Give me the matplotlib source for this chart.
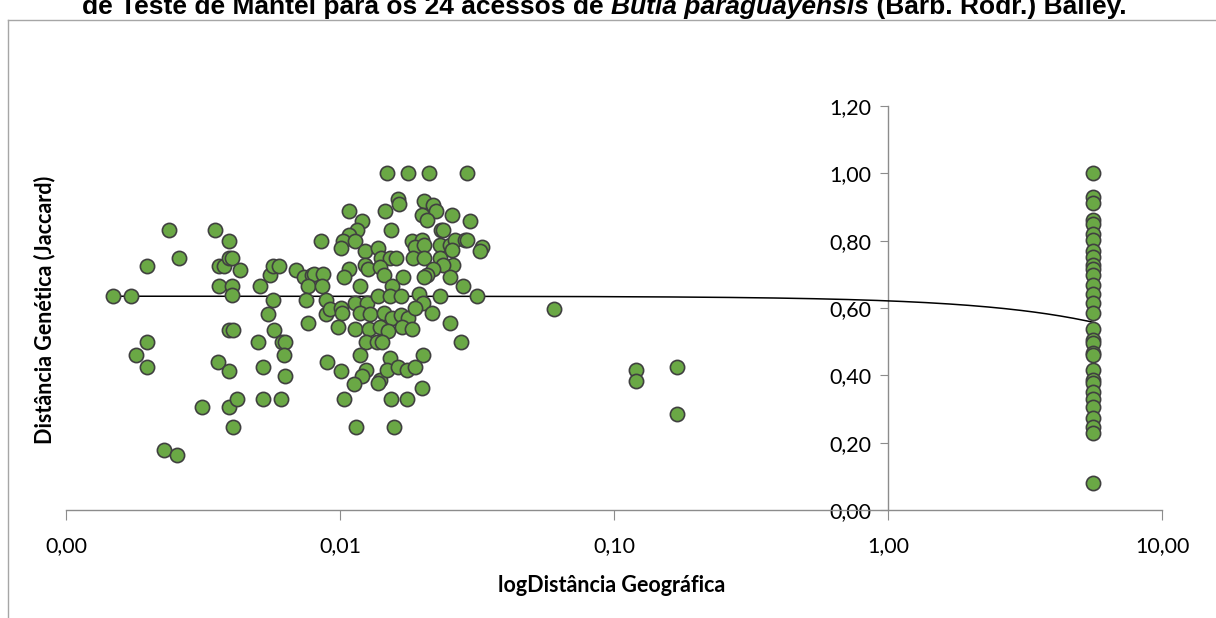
import numpy as np
import matplotlib
matplotlib.use("Agg")
import matplotlib.pyplot as plt
from matplotlib.ticker import FixedLocator, FixedFormatter
from matplotlib.lines import Line2D

# geographic distance (log axis) vs genetic distance (Jaccard)
geo_near = [
    0.00149, 0.00172, 0.00238, 0.00197, 0.00259, 0.00350, 0.00394,
    0.00363, 0.00377, 0.00394, 0.00403, 0.00432, 0.00362, 0.00404, 0.00404,
    0.00511, 0.00555, 0.00571, 0.00600, 0.00689, 0.00739, 0.00792, 0.00804,
    0.00869, 0.00766, 0.00858, 0.00850, 0.00571, 0.00750, 0.00887, 0.00547,
    0.00573, 0.00766, 0.00887, 0.00919, 0.00394, 0.00408, 0.00197, 0.00180,
    0.00197, 0.00360, 0.00394, 0.00503, 0.00522, 0.00616, 0.00630, 0.00626,
    0.00630, 0.00899, 0.00313, 0.00394, 0.00420, 0.00522, 0.00611, 0.00408,
    0.00227, 0.00255,
]
gen_near = [
    0.635, 0.635, 0.833, 0.726, 0.749, 0.833, 0.799,
    0.726, 0.726, 0.749, 0.749, 0.714, 0.665, 0.665, 0.640,
    0.665, 0.697, 0.726, 0.726, 0.714, 0.691, 0.697, 0.700,
    0.700, 0.665, 0.665, 0.799, 0.623, 0.623, 0.623, 0.582,
    0.536, 0.554, 0.582, 0.596, 0.536, 0.536, 0.498, 0.459,
    0.425, 0.441, 0.414, 0.498, 0.425, 0.498, 0.498, 0.459,
    0.398, 0.441, 0.305, 0.305, 0.331, 0.331, 0.331, 0.247,
    0.178, 0.162,
]

geo_mid = [
    0.01480, 0.01775, 0.02113, 0.02901, 0.01632, 0.01646, 0.02026, 0.02190,
    0.02234, 0.01987, 0.02072, 0.01081, 0.01459, 0.02556, 0.02982, 0.01200,
    0.01150, 0.01081, 0.01028, 0.01006, 0.01134, 0.01531, 0.02336, 0.02382,
    0.01234, 0.01380, 0.01408, 0.01522, 0.01601, 0.01827, 0.01987, 0.01878,
    0.02031, 0.02317, 0.02520, 0.02628, 0.02860, 0.02916, 0.03289, 0.03242,
    0.01851, 0.02026, 0.02317, 0.02556, 0.02578, 0.02382, 0.02178, 0.02072,
    0.02031, 0.02520, 0.02805, 0.01234, 0.01269, 0.01400, 0.01451, 0.01702,
    0.01081, 0.01034, 0.01183, 0.01544, 0.01134, 0.01252, 0.01380, 0.01522,
    0.01670, 0.01947, 0.02004, 0.02317, 0.03170, 0.01006, 0.01014, 0.01183,
    0.01287, 0.01448, 0.01544, 0.01665, 0.01775, 0.01878, 0.02160, 0.00986,
    0.01134, 0.01279, 0.01400, 0.01493, 0.01680, 0.01836, 0.02520, 0.02758,
    0.01241, 0.01361, 0.01420, 0.01183, 0.01522, 0.02014, 0.01008, 0.01244,
    0.01200, 0.01125, 0.01400, 0.01380, 0.01480, 0.01632, 0.01751, 0.01878,
    0.01997, 0.01034, 0.01535, 0.01751, 0.01141, 0.01578,
]
gen_mid = [
    1.000, 1.000, 1.000, 1.000, 0.925, 0.910, 0.918, 0.905,
    0.888, 0.877, 0.861, 0.888, 0.888, 0.875, 0.858, 0.858,
    0.831, 0.816, 0.799, 0.777, 0.799, 0.833, 0.833, 0.833,
    0.769, 0.779, 0.750, 0.750, 0.750, 0.799, 0.801, 0.781,
    0.786, 0.786, 0.786, 0.801, 0.801, 0.801, 0.781, 0.769,
    0.750, 0.750, 0.750, 0.772, 0.727, 0.727, 0.715, 0.697,
    0.692, 0.692, 0.666, 0.727, 0.715, 0.722, 0.699, 0.692,
    0.717, 0.692, 0.666, 0.666, 0.615, 0.615, 0.635, 0.635,
    0.635, 0.643, 0.615, 0.635, 0.635, 0.599, 0.584, 0.584,
    0.582, 0.584, 0.569, 0.579, 0.569, 0.599, 0.584, 0.544,
    0.537, 0.537, 0.544, 0.531, 0.544, 0.537, 0.554, 0.498,
    0.498, 0.498, 0.498, 0.459, 0.452, 0.459, 0.414, 0.415,
    0.398, 0.373, 0.386, 0.376, 0.415, 0.425, 0.415, 0.425,
    0.362, 0.331, 0.331, 0.331, 0.247, 0.247,
]

geo_far = [0.0604, 0.120, 0.120, 0.1693, 0.1693]
gen_far = [0.598, 0.415, 0.383, 0.425, 0.284]

geo_out = 5.6
gen_out = [
    1.000, 0.929, 0.912, 0.861, 0.849, 0.821, 0.801, 0.769, 0.752, 0.727,
    0.715, 0.697, 0.668, 0.643, 0.614, 0.584, 0.537, 0.504, 0.495, 0.465,
    0.460, 0.415, 0.386, 0.376, 0.351, 0.331, 0.306, 0.272, 0.247, 0.228,
    0.079,
]

# linear trendline: y = intercept + slope * x
trend_intercept = 0.635
trend_slope = -0.0138

x_ticks = [0.001, 0.01, 0.1, 1, 10]
x_labels = ["0,00", "0,01", "0,10", "1,00", "10,00"]
y_ticks = [0.0, 0.2, 0.4, 0.6, 0.8, 1.0, 1.2]
y_labels = ["0,00", "0,20", "0,40", "0,60", "0,80", "1,00", "1,20"]

x = np.array(geo_near + geo_mid + geo_far + [geo_out] * len(gen_out))
y = np.array(gen_near + gen_mid + gen_far + gen_out)

plt.rcParams["font.family"] = ["Lato", "DejaVu Sans"]

fig = plt.figure(figsize=(12.16, 6.18), dpi=100)
ax = fig.add_axes([66 / 1216, 1 - 510 / 618, (1162 - 66) / 1216, (510 - 106) / 618])

ax.scatter(x, y, s=105, color="#6aa845", edgecolors="#404040", linewidths=1.2, zorder=3)

xt = np.geomspace(x.min(), x.max(), 300)
ax.plot(xt, trend_intercept + trend_slope * xt, color="black", lw=1.1, zorder=2)

ax.set_xscale("log")
ax.set_xlim(0.001, 10)
ax.set_ylim(0, 1.2)
ax.xaxis.set_major_locator(FixedLocator(x_ticks))
ax.xaxis.set_major_formatter(FixedFormatter(x_labels))
ax.xaxis.set_minor_locator(FixedLocator([]))
ax.yaxis.set_major_locator(FixedLocator(y_ticks))
ax.yaxis.set_major_formatter(FixedFormatter(y_labels))

for side in ["top", "right"]:
    ax.spines[side].set_visible(False)
ax.spines["left"].set_position(("data", 1))
ax.spines["bottom"].set_position(("data", 0))
for side in ["left", "bottom"]:
    ax.spines[side].set_color("#8c8c8c")
    ax.spines[side].set_linewidth(1.0)
ax.spines["left"].set_zorder(1)

ax.tick_params(axis="x", direction="out", length=7, color="#8c8c8c", labelsize=15.5, pad=12)
ax.tick_params(axis="y", direction="out", length=6, color="#8c8c8c", labelsize=15.5, pad=6)
ax.patch.set_visible(False)

fig.text(612 / 1216, 1 - 585 / 618, "logDistância Geográfica", ha="center", va="center",
         fontsize=15.5, fontweight="bold")
fig.text(45 / 1216, 1 - 310 / 618, "Distância Genética (Jaccard)", ha="center", va="center",
         rotation=90, fontsize=15.5, fontweight="bold")

# outer chart frame (only left and top edges are visible)
fig.add_artist(Line2D([8 / 1216, 8 / 1216], [0, 1 - 20 / 618], transform=fig.transFigure,
                      color="#a6a6a6", lw=1.0))
fig.add_artist(Line2D([8 / 1216, 1], [1 - 20 / 618, 1 - 20 / 618], transform=fig.transFigure,
                      color="#a6a6a6", lw=1.0))

# title, clipped at the top of the image
parts = [("de Teste de Mantel para os 24 acessos de ", "normal"),
         ("Butia paraguayensis", "italic"),
         (" (Barb. Rodr.) Bailey.", "normal")]
renderer = fig.canvas.get_renderer()
texts = []
for s, style in parts:
    t = fig.text(0, 1 - 14 / 618, s, ha="left", va="baseline", fontsize=19,
                 fontweight="bold", style=style, family="Liberation Sans")
    texts.append(t)
widths = [t.get_window_extent(renderer).width for t in texts]
x0 = 604 - sum(widths) / 2
for t, w in zip(texts, widths):
    t.set_x(x0 / 1216)
    x0 += w

fig.savefig("out.png", dpi=100)
